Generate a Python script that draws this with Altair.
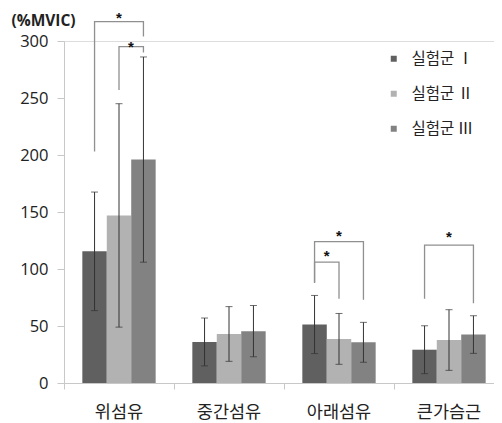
import altair as alt
import pandas as pd

categories = ["위섬유", "중간섬유", "아래섬유", "큰가슴근"]
groups = ["실험군 Ⅰ", "실험군 Ⅱ", "실험군 Ⅲ"]
colors = ["#606060", "#b2b2b2", "#828282"]

mean_g1 = [115.5, 36, 51.3, 29.2]
mean_g2 = [147, 43, 38.7, 37.7]
mean_g3 = [196, 45.5, 35.7, 42.5]
sd_g1 = [52, 21, 25.5, 21]
sd_g2 = [98, 24, 22.3, 26.6]
sd_g3 = [90, 22.5, 17.5, 16.5]

# significance brackets
br_cat = ["위섬유", "위섬유", "아래섬유", "아래섬유", "큰가슴근"]
br_left = ["실험군 Ⅰ", "실험군 Ⅱ", "실험군 Ⅰ", "실험군 Ⅰ", "실험군 Ⅰ"]
br_right = ["실험군 Ⅲ", "실험군 Ⅲ", "실험군 Ⅲ", "실험군 Ⅱ", "실험군 Ⅲ"]
br_left_bottom = [203, 257, 88, 88, 74]
br_right_bottom = [304, 290, 73, 74, 70]
br_top = [317, 295, 124, 106, 121]
star_y = [326.5, 301, 134.7, 117.8, 134.5]
star_group = ["실험군 Ⅱ", "실험군 Ⅱ", "실험군 Ⅱ", "실험군 Ⅰ", "실험군 Ⅱ"]
star_between = [False, True, False, True, False]

rows = []
for g, m, s in zip(groups, [mean_g1, mean_g2, mean_g3], [sd_g1, sd_g2, sd_g3]):
    for c, mv, sv in zip(categories, m, s):
        rows.append({"cat": c, "grp": g, "mean": mv, "lo": mv - sv, "hi": mv + sv})
df = pd.DataFrame(rows)

br_rows = []
for i in range(len(br_cat)):
    pts = [(br_left[i], br_left_bottom[i]), (br_left[i], br_top[i]),
           (br_right[i], br_top[i]), (br_right[i], br_right_bottom[i])]
    for k, (g, y) in enumerate(pts):
        br_rows.append({"id": i, "cat": br_cat[i], "grp": g, "y": y, "ord": k})
br_df = pd.DataFrame(br_rows)

star_df = pd.DataFrame({"cat": br_cat, "grp": star_group, "y": star_y, "between": star_between})

FONT = "Noto Sans CJK KR"
NUMFONT = "Open Sans"
STARFONT = "Liberation Sans"

x_enc = alt.X("cat:N", sort=categories,
              scale=alt.Scale(range=[0, 440], paddingInner=0, paddingOuter=0),
              axis=alt.Axis(title=None, labelAngle=0, labelFontSize=17.5, labelColor="#222",
                            labelPadding=14, tickSize=6, bandPosition=0,
                            domainColor="#c8c8c8", tickColor="#c8c8c8", labelFont=FONT))
xo = alt.XOffset("grp:N", sort=groups, scale=alt.Scale(paddingOuter=0.75, paddingInner=0))
y_scale = alt.Scale(domain=[0, 300], nice=False)

bars = alt.Chart(df).mark_bar().encode(
    x=x_enc,
    xOffset=xo,
    y=alt.Y("mean:Q", scale=y_scale,
            axis=alt.Axis(values=[0, 50, 100, 150, 200, 250, 300], grid=False,
                          title="(%MVIC)", titleAngle=0, titleX=-21, titleY=-21,
                          titleAlign="center", titleBaseline="middle",
                          titleFontSize=15.5, titleFontWeight="bold", titleFont=NUMFONT,
                          titleColor="#222",
                          labelFontSize=16.5, labelColor="#222", labelFont=NUMFONT,
                          tickSize=7, labelPadding=9,
                          domainColor="#c8c8c8", tickColor="#c8c8c8")),
    color=alt.Color("grp:N", sort=groups, scale=alt.Scale(domain=groups, range=colors),
                    legend=alt.Legend(title=None, orient="none", legendX=322, legendY=10,
                                      symbolType="square", symbolSize=36,
                                      symbolStrokeWidth=0, labelFontSize=15.5,
                                      labelFont=FONT, labelColor="#222",
                                      labelOffset=10, rowPadding=18, padding=0)),
)

err = alt.Chart(df).mark_rule(color="#333333", strokeWidth=1).encode(
    x=alt.X("cat:N", sort=categories), xOffset=xo,
    y=alt.Y("lo:Q", scale=y_scale), y2="hi:Q")

caps_lo = alt.Chart(df).mark_tick(color="#333333", thickness=1, size=7, orient="horizontal").encode(
    x=alt.X("cat:N", sort=categories), xOffset=xo, y=alt.Y("lo:Q", scale=y_scale))
caps_hi = alt.Chart(df).mark_tick(color="#333333", thickness=1, size=7, orient="horizontal").encode(
    x=alt.X("cat:N", sort=categories), xOffset=xo, y=alt.Y("hi:Q", scale=y_scale))

brackets = alt.Chart(br_df).mark_line(color="#909090", strokeWidth=1.3).encode(
    x=alt.X("cat:N", sort=categories), xOffset=alt.XOffset("grp:N", sort=groups),
    y=alt.Y("y:Q", scale=y_scale), detail="id:N", order="ord:Q")

stars_c = alt.Chart(star_df[~star_df["between"]]).mark_text(
    text="*", fontSize=15, fontWeight="bold", font=STARFONT, color="#111", baseline="top").encode(
    x=alt.X("cat:N", sort=categories), xOffset=alt.XOffset("grp:N", sort=groups),
    y=alt.Y("y:Q", scale=y_scale))
stars_b = alt.Chart(star_df[star_df["between"]]).mark_text(
    text="*", fontSize=15, fontWeight="bold", font=STARFONT, color="#111", baseline="top", dx=12).encode(
    x=alt.X("cat:N", sort=categories), xOffset=alt.XOffset("grp:N", sort=groups),
    y=alt.Y("y:Q", scale=y_scale))

chart = alt.layer(bars, err, caps_lo, caps_hi, brackets, stars_c, stars_b).properties(
    width=430, height=342,
    autosize=alt.AutoSizeParams(type="none"),
    padding={"left": 56, "top": 33, "right": 0, "bottom": 40},
).configure_view(stroke=None).configure(font=FONT)

chart.save("out.html", embed_options={"renderer": "svg", "actions": False})
